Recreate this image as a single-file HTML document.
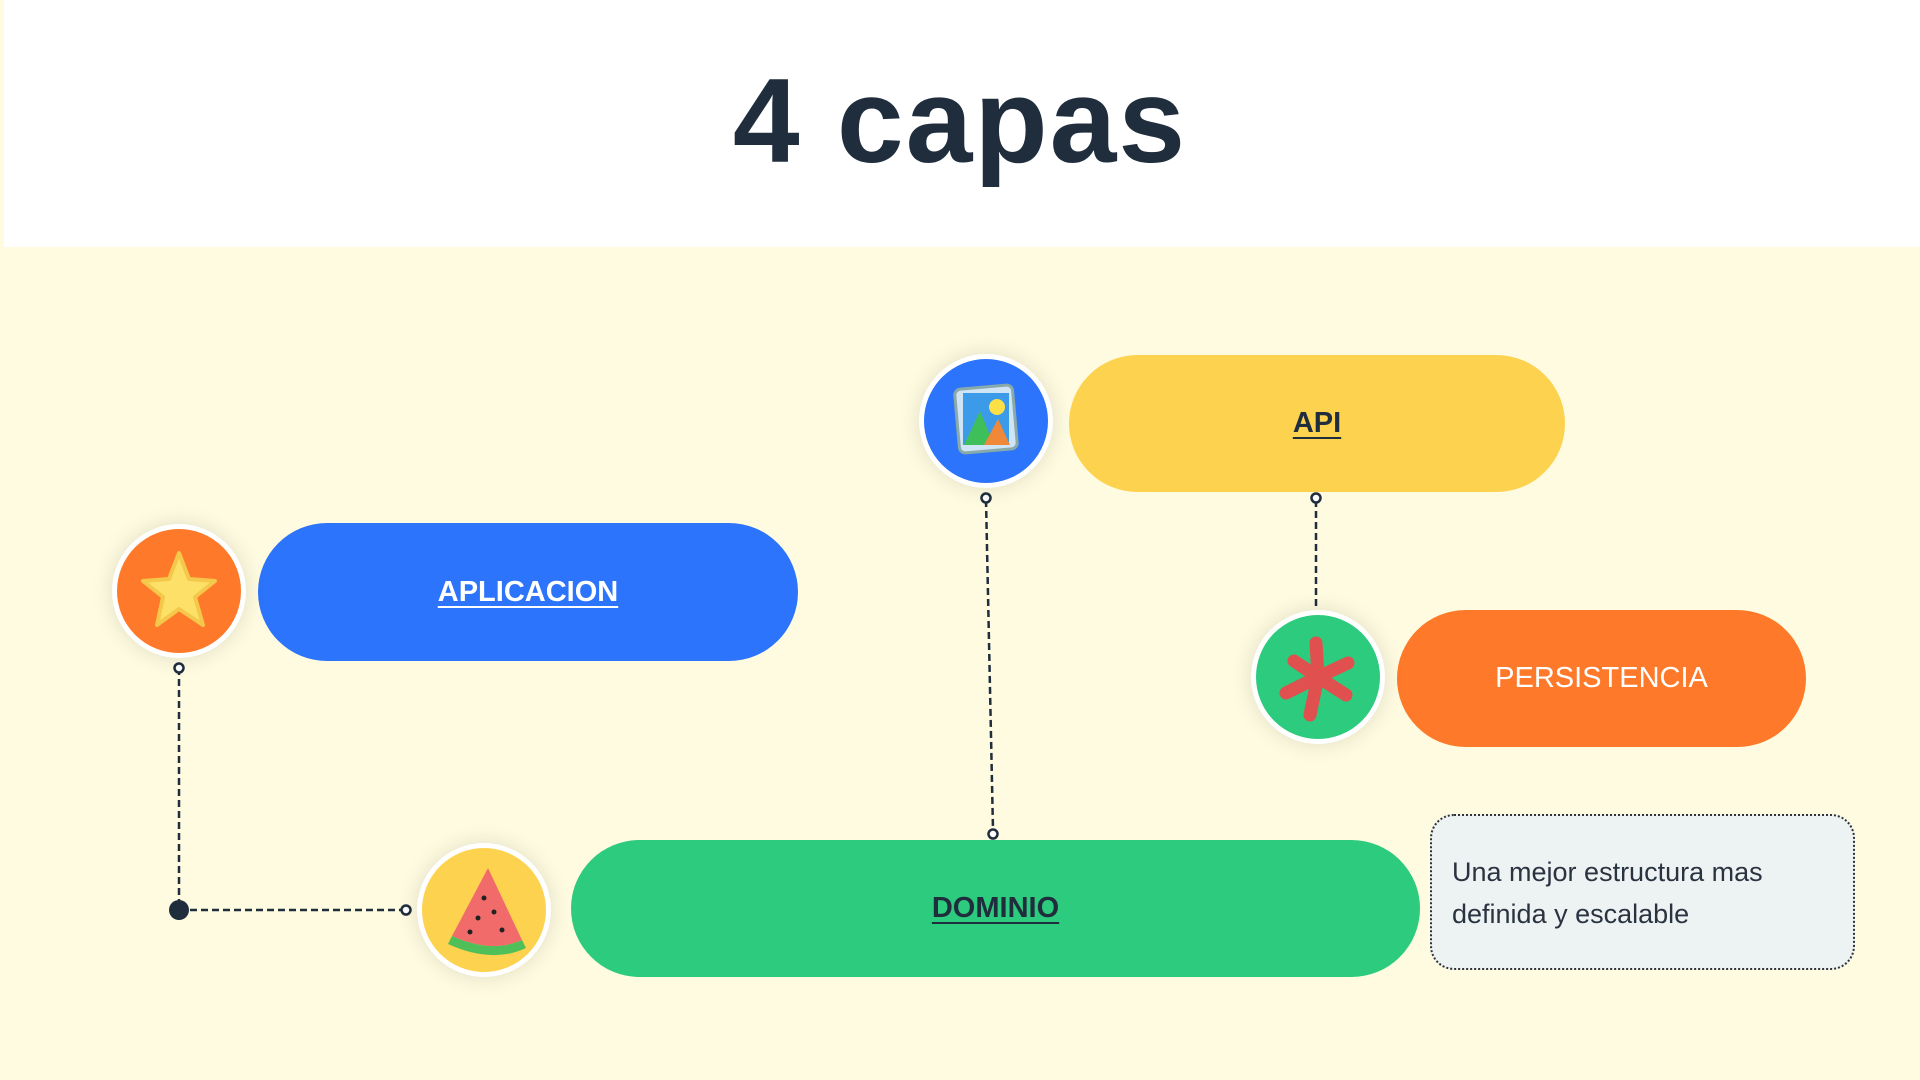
<!DOCTYPE html>
<html><head><meta charset="utf-8"><style>
body{margin:0;width:1920px;height:1080px;overflow:hidden;background:#fefbe0;font-family:"Liberation Sans",sans-serif;position:relative}
.hdr{position:absolute;left:4px;top:0;width:1916px;height:247px;background:#fff}
.title{position:absolute;left:0;width:1920px;top:52px;text-align:center;font-size:120px;font-weight:bold;color:#1f2d3d;letter-spacing:2px}
.pill{position:absolute;border-radius:70px;display:flex;align-items:center;justify-content:center;font-size:29px;font-weight:bold}
.u{text-decoration:underline;text-underline-offset:5px}
.c{position:absolute;border-radius:50%;border:5px solid #fff;box-shadow:0 0 22px rgba(0,0,0,.12);box-sizing:border-box;overflow:hidden}
.box{position:absolute;left:1430px;top:814px;width:425px;height:156px;box-sizing:border-box;border:2px dotted #333;border-radius:24px;background:#edf2f3;color:#2a3340;font-size:27px;line-height:42px;padding:35px 0 0 20px}
svg.l{position:absolute;left:0;top:0}
</style></head><body>
<div class="hdr"></div>
<div class="title">4 capas</div>
<svg class="l" width="1920" height="1080">
<g stroke="#1f2d3d" stroke-width="2.5" fill="none" stroke-dasharray="7 4">
<line x1="179" y1="668" x2="179" y2="910"/>
<line x1="179" y1="910" x2="404" y2="910"/>
<line x1="986" y1="500" x2="993" y2="830"/>
<line x1="1316" y1="500" x2="1316" y2="606"/>
</g>
<g stroke="#1f2d3d" stroke-width="2.5" fill="#fff">
<circle cx="179" cy="668" r="4.5"/><circle cx="406" cy="910" r="4.5"/>
<circle cx="986" cy="498" r="4.5"/><circle cx="993" cy="834" r="4.5"/>
<circle cx="1316" cy="498" r="4.5"/>
</g>
<circle cx="179" cy="910" r="10" fill="#1f2d3d"/>
</svg>
<div class="pill" style="left:1069px;top:355px;width:496px;height:137px;background:#fdd24e;color:#1f2d3d"><span class="u">API</span></div>
<div class="pill" style="left:258px;top:523px;width:540px;height:138px;background:#2b74fb;color:#fff"><span class="u">APLICACION</span></div>
<div class="pill" style="left:1397px;top:610px;width:409px;height:137px;background:#fe7a2a;color:#fff;font-weight:normal">PERSISTENCIA</div>
<div class="pill" style="left:571px;top:840px;width:849px;height:137px;background:#2ccb7d;color:#1f2d3d"><span class="u">DOMINIO</span></div>
<div class="c" style="left:919px;top:354px;width:134px;height:134px;background:#2b74fb">
<svg width="124" height="124"><rect x="33" y="28" width="58" height="64" rx="6" fill="#cfe4f5" stroke="#8aa" stroke-width="3" transform="rotate(-5 62 60)"/><rect x="39" y="34" width="46" height="52" fill="#3b9be8"/><circle cx="73" cy="48" r="8" fill="#fde047"/><path d="M40 86 L56 52 L70 86Z" fill="#3fbf5a"/><path d="M60 86 L74 60 L86 86Z" fill="#f0883a"/></svg></div>
<div class="c" style="left:112px;top:524px;width:134px;height:134px;background:#fe7a2a">
<svg width="124" height="124"><path d="M62 24 L72 50 L98 52 L78 68 L86 96 L62 80 L40 96 L46 68 L26 52 L52 50Z" fill="#fde067" stroke="#f4c84a" stroke-width="4" stroke-linejoin="round"/></svg></div>
<div class="c" style="left:1251px;top:610px;width:134px;height:134px;background:#2ccb7d">
<svg width="124" height="124"><g stroke="#e0504f" stroke-width="13" stroke-linecap="round"><line x1="62" y1="62" x2="60" y2="28"/><line x1="62" y1="62" x2="92" y2="48"/><line x1="62" y1="62" x2="90" y2="80"/><line x1="62" y1="62" x2="54" y2="100"/><line x1="62" y1="62" x2="30" y2="78"/><line x1="62" y1="62" x2="38" y2="46"/></g></svg></div>
<div class="c" style="left:417px;top:843px;width:134px;height:134px;background:#fdd24e">
<svg width="124" height="124"><path d="M66 20 L100 92 Q70 106 30 88Z" fill="#f26b6b"/><path d="M30 88 Q70 106 100 92 L104 100 Q70 116 26 96Z" fill="#4fbf5a"/><g fill="#222"><circle cx="62" cy="50" r="2.5"/><circle cx="72" cy="64" r="2.5"/><circle cx="56" cy="70" r="2.5"/><circle cx="80" cy="82" r="2.5"/><circle cx="48" cy="84" r="2.5"/></g></svg></div>
<div class="box">Una mejor estructura mas<br>definida y escalable</div>
</body></html>
